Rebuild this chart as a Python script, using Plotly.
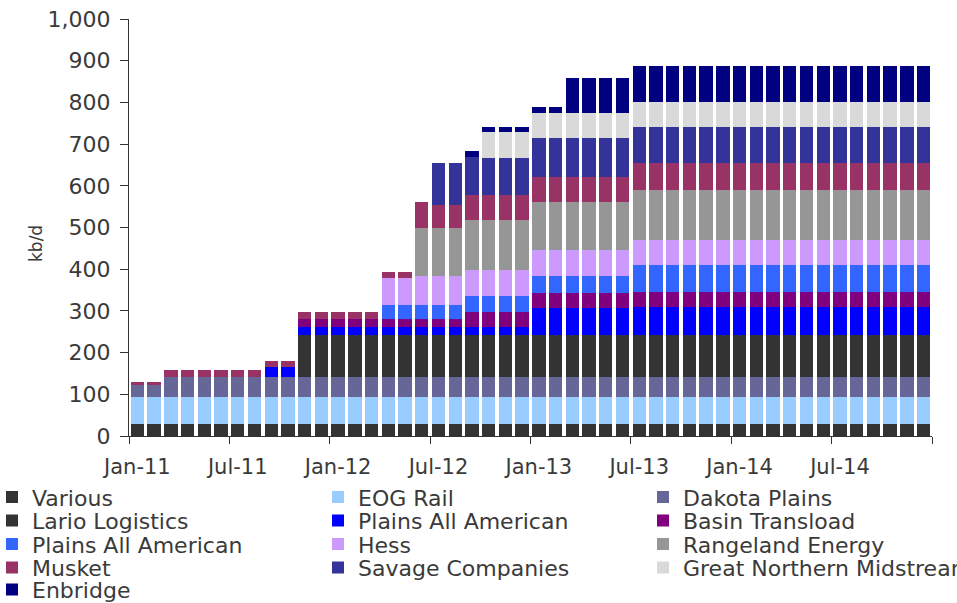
import plotly.graph_objects as go

months = ["Jan-11", "Feb-11", "Mar-11", "Apr-11", "May-11", "Jun-11",
          "Jul-11", "Aug-11", "Sep-11", "Oct-11", "Nov-11", "Dec-11",
          "Jan-12", "Feb-12", "Mar-12", "Apr-12", "May-12", "Jun-12",
          "Jul-12", "Aug-12", "Sep-12", "Oct-12", "Nov-12", "Dec-12",
          "Jan-13", "Feb-13", "Mar-13", "Apr-13", "May-13", "Jun-13",
          "Jul-13", "Aug-13", "Sep-13", "Oct-13", "Nov-13", "Dec-13",
          "Jan-14", "Feb-14", "Mar-14", "Apr-14", "May-14", "Jun-14",
          "Jul-14", "Aug-14", "Sep-14", "Oct-14", "Nov-14", "Dec-14"]

tick_labels = ["Jan-11", "Jul-11", "Jan-12", "Jul-12", "Jan-13", "Jul-13", "Jan-14", "Jul-14"]

# kb/d, one value per month (Jan-11 .. Dec-14)
various = [28, 28, 28, 28, 28, 28, 28, 28, 28, 28, 28, 28,
           28, 28, 28, 28, 28, 28, 28, 28, 28, 28, 28, 28,
           28, 28, 28, 28, 28, 28, 28, 28, 28, 28, 28, 28,
           28, 28, 28, 28, 28, 28, 28, 28, 28, 28, 28, 28]
eog_rail = [66, 66, 66, 66, 66, 66, 66, 66, 66, 66, 66, 66,
            66, 66, 66, 66, 66, 66, 66, 66, 66, 66, 66, 66,
            66, 66, 66, 66, 66, 66, 66, 66, 66, 66, 66, 66,
            66, 66, 66, 66, 66, 66, 66, 66, 66, 66, 66, 66]
dakota_plains = [28, 28, 48, 48, 48, 48, 48, 48, 48, 48, 48, 48,
                 48, 48, 48, 48, 48, 48, 48, 48, 48, 48, 48, 48,
                 48, 48, 48, 48, 48, 48, 48, 48, 48, 48, 48, 48,
                 48, 48, 48, 48, 48, 48, 48, 48, 48, 48, 48, 48]
lario_logistics = [0, 0, 0, 0, 0, 0, 0, 0, 0, 0, 100, 100,
                   100, 100, 100, 100, 100, 100, 100, 100, 100, 100, 100, 100,
                   100, 100, 100, 100, 100, 100, 100, 100, 100, 100, 100, 100,
                   100, 100, 100, 100, 100, 100, 100, 100, 100, 100, 100, 100]
plains_all_american_1 = [0, 0, 0, 0, 0, 0, 0, 0, 23, 23, 20, 20,
                         20, 20, 20, 20, 20, 20, 20, 20, 20, 20, 20, 20,
                         64, 64, 64, 64, 64, 64, 68, 68, 68, 68, 68, 68,
                         68, 68, 68, 68, 68, 68, 68, 68, 68, 68, 68, 68]
basin_transload = [0, 0, 0, 0, 0, 0, 0, 0, 0, 0, 18, 18,
                   18, 18, 18, 18, 18, 18, 18, 18, 36, 36, 36, 36,
                   38, 38, 38, 38, 38, 38, 36, 36, 36, 36, 36, 36,
                   36, 36, 36, 36, 36, 36, 36, 36, 36, 36, 36, 36]
plains_all_american_2 = [0, 0, 0, 0, 0, 0, 0, 0, 0, 0, 0, 0,
                         0, 0, 0, 34, 34, 34, 34, 34, 38, 38, 38, 38,
                         40, 40, 40, 40, 40, 40, 64, 64, 64, 64, 64, 64,
                         64, 64, 64, 64, 64, 64, 64, 64, 64, 64, 64, 64]
hess = [0, 0, 0, 0, 0, 0, 0, 0, 0, 0, 0, 0,
        0, 0, 0, 66, 66, 70, 70, 70, 62, 62, 62, 62,
        62, 62, 62, 62, 62, 62, 60, 60, 60, 60, 60, 60,
        60, 60, 60, 60, 60, 60, 60, 60, 60, 60, 60, 60]
rangeland_energy = [0, 0, 0, 0, 0, 0, 0, 0, 0, 0, 0, 0,
                    0, 0, 0, 0, 0, 116, 116, 116, 120, 120, 120, 120,
                    116, 116, 116, 116, 116, 116, 120, 120, 120, 120, 120, 120,
                    120, 120, 120, 120, 120, 120, 120, 120, 120, 120, 120, 120]
musket = [8, 8, 16, 16, 16, 16, 16, 16, 16, 16, 18, 18,
          18, 18, 18, 14, 14, 60, 54, 54, 60, 60, 60, 60,
          60, 60, 60, 60, 60, 60, 64, 64, 64, 64, 64, 64,
          64, 64, 64, 64, 64, 64, 64, 64, 64, 64, 64, 64]
savage_companies = [0, 0, 0, 0, 0, 0, 0, 0, 0, 0, 0, 0,
                    0, 0, 0, 0, 0, 0, 100, 100, 92, 88, 88, 88,
                    92, 92, 92, 92, 92, 92, 88, 88, 88, 88, 88, 88,
                    88, 88, 88, 88, 88, 88, 88, 88, 88, 88, 88, 88]
great_northern_midstream = [0, 0, 0, 0, 0, 0, 0, 0, 0, 0, 0, 0,
                            0, 0, 0, 0, 0, 0, 0, 0, 0, 64, 64, 64,
                            60, 60, 60, 60, 60, 60, 60, 60, 60, 60, 60, 60,
                            60, 60, 60, 60, 60, 60, 60, 60, 60, 60, 60, 60]
enbridge = [0, 0, 0, 0, 0, 0, 0, 0, 0, 0, 0, 0,
            0, 0, 0, 0, 0, 0, 0, 0, 13, 10, 10, 10,
            16, 16, 84, 84, 84, 84, 86, 86, 86, 86, 86, 86,
            86, 86, 86, 86, 86, 86, 86, 86, 86, 86, 86, 86]

series_names = ["Various", "EOG Rail", "Dakota Plains", "Lario Logistics",
                "Plains All American", "Basin Transload", "Plains All American",
                "Hess", "Rangeland Energy", "Musket", "Savage Companies",
                "Great Northern Midstream", "Enbridge"]
series_values = [various, eog_rail, dakota_plains, lario_logistics,
                 plains_all_american_1, basin_transload, plains_all_american_2,
                 hess, rangeland_energy, musket, savage_companies,
                 great_northern_midstream, enbridge]
series_colors = ["#333333", "#99CCFF", "#666699", "#333333", "#0000FF", "#800080",
                 "#3366FF", "#CC99FF", "#969696", "#993366", "#333399", "#D9D9D9",
                 "#000080"]

# layout geometry (pixels)
W, H = 957, 603
L, R, T, B = 129, 932, 19, 436
FONT = "DejaVu Sans"
TXT = "#3a3a3a"
LEG_SIZE = 22
col_text_x = [32, 358, 683]
row_center_y = [497, 520.5, 544, 567.5, 589.5]

x_idx = list(range(len(months)))

fig = go.Figure()
layout_legends = {}
for k, (name, vals, col) in enumerate(zip(series_names, series_values, series_colors)):
    lid = "legend" if k == 0 else f"legend{k + 1}"
    fig.add_trace(go.Bar(
        x=x_idx, y=vals, name=name, marker=dict(color=col, line=dict(width=0)),
        customdata=months, legend=lid,
        hovertemplate="%{customdata}<br>" + name + ": %{y} kb/d<extra></extra>",
    ))
    r, c = divmod(k, 3)
    item_h = LEG_SIZE * 1.3 + 3
    top_px = row_center_y[r] - (item_h / 2 + 5)
    layout_legends[lid] = dict(
        x=(col_text_x[c] - 40 - L) / (R - L),
        y=(B - top_px) / (B - T),
        xanchor="left", yanchor="top",
        bgcolor="rgba(0,0,0,0)", borderwidth=0,
        font=dict(family=FONT, size=LEG_SIZE, color=TXT),
        traceorder="normal",
    )

tick_pos = [months.index(t) for t in tick_labels]
boundary_ticks = [p - 0.5 for p in tick_pos] + [len(months) - 0.5]

fig.update_layout(
    width=W, height=H,
    barmode="stack", bargap=0.2,
    plot_bgcolor="white", paper_bgcolor="white",
    margin=dict(l=L, r=W - R, t=T, b=H - B, autoexpand=False),
    font=dict(family=FONT, size=22, color=TXT),
    showlegend=True,
    xaxis=dict(
        range=[-0.5, len(months) - 0.5],
        tickmode="array", tickvals=tick_pos, ticktext=tick_labels,
        ticks="", showline=True, linecolor="#333333", linewidth=1,
        showgrid=False, zeroline=False, ticklabelstandoff=12,
        tickfont=dict(family=FONT, size=21, color=TXT),
        minor=dict(tickmode="array", tickvals=boundary_ticks, ticks="outside",
                   ticklen=7, tickcolor="#333333", tickwidth=1, showgrid=False),
    ),
    yaxis=dict(
        range=[0, 1000], tickmode="linear", tick0=0, dtick=100, tickformat=",",
        ticks="outside", ticklen=8, tickcolor="#333333", showline=True,
        linecolor="#333333", linewidth=1, showgrid=False, zeroline=False,
        ticklabelstandoff=5,
        tickfont=dict(family=FONT, size=22, color=TXT),
    ),
    annotations=[dict(
        text="kb/d", textangle=-90, xref="paper", yref="paper",
        x=(36 - L) / (R - L), y=(B - 244) / (B - T),
        xanchor="center", yanchor="middle", showarrow=False,
        font=dict(family=FONT, size=17, color=TXT),
    )],
    **layout_legends,
)

fig.write_html("out.html")
